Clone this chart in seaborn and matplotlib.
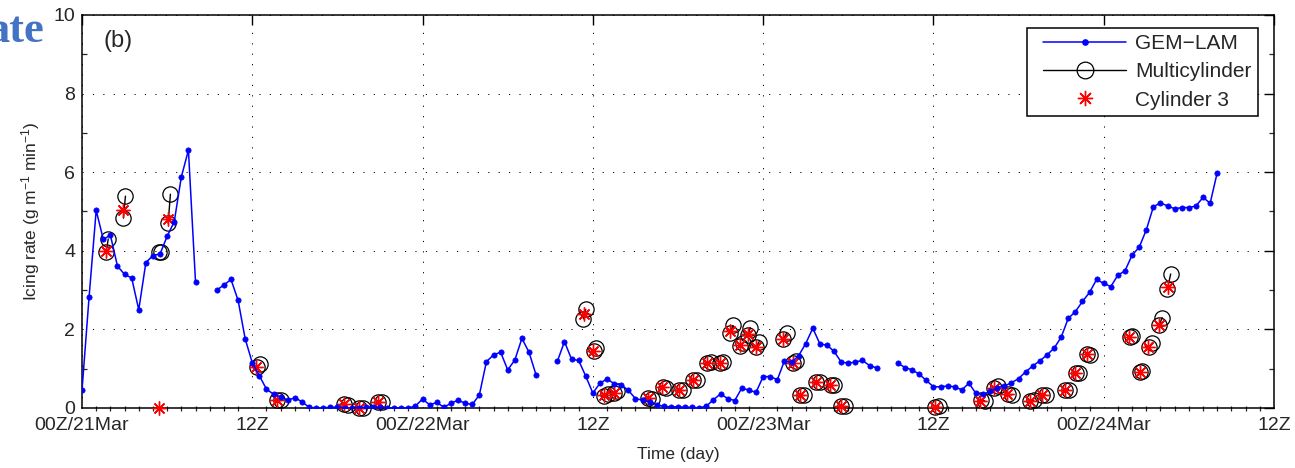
import numpy as np
import pandas as pd
import matplotlib
matplotlib.use("Agg")
import matplotlib.pyplot as plt
from matplotlib.lines import Line2D
from matplotlib.legend_handler import HandlerLine2D
from matplotlib.ticker import MultipleLocator
import seaborn as sns

# ---------------- data ----------------
# GEM-LAM model icing rate, every 30 min from 00Z/21Mar (hours since start)
gem_hours = np.arange(0, 80.5, 0.5)
gem_rate = [
    0.45, 2.83, 5.03, 4.29, 4.40, 3.61, 3.40, 3.31, 2.50, 3.70,
    3.88, 3.92, 4.37, 4.74, 5.88, 6.56, 3.20, np.nan, np.nan, 3.00,
    3.13, 3.27, 2.74, 1.76, 1.15, 0.82, 0.48, 0.35, 0.28, 0.20,
    0.26, 0.16, 0.02, 0.00, 0.00, 0.02, 0.02, 0.00, 0.00, 0.00,
    0.02, 0.03, 0.02, 0.00, 0.00, 0.00, 0.00, 0.05, 0.23, 0.08,
    0.14, 0.02, 0.12, 0.20, 0.12, 0.09, 0.33, 1.18, 1.35, 1.42,
    0.97, 1.22, 1.77, 1.42, 0.84, np.nan, np.nan, 1.19, 1.69, 1.24,
    1.21, 0.81, 0.38, 0.63, 0.74, 0.62, 0.59, 0.45, 0.24, 0.20,
    0.16, 0.08, 0.04, 0.03, 0.03, 0.02, 0.02, 0.00, 0.05, 0.21,
    0.36, 0.24, 0.19, 0.51, 0.45, 0.40, 0.80, 0.80, 0.72, 1.20,
    1.16, 1.33, 1.64, 2.03, 1.63, 1.60, 1.44, 1.17, 1.14, 1.17,
    1.21, 1.08, 1.02, np.nan, np.nan, 1.14, 1.03, 0.97, 0.86, 0.70,
    0.54, 0.54, 0.56, 0.54, 0.46, 0.63, 0.37, 0.35, 0.42, 0.52,
    0.56, 0.64, 0.75, 0.92, 1.07, 1.20, 1.35, 1.52, 1.80, 2.28,
    2.45, 2.71, 2.94, 3.27, 3.17, 3.09, 3.38, 3.49, 3.89, 4.09,
    4.53, 5.12, 5.22, 5.14, 5.07, 5.10, 5.10, 5.14, 5.36, 5.21,
    5.99,
]

# Cylinder 3 observations
cyl3_hours = [1.70, 2.92, 5.41, 6.07, 12.28, 13.74, 18.44, 19.50, 20.84,
              35.35, 36.04, 36.79, 37.50, 39.88, 40.90, 42.08, 43.05, 44.04,
              44.95, 45.65, 46.35, 46.90, 47.50, 49.40, 50.08, 50.60, 51.70,
              52.74, 53.50, 60.08, 63.30, 64.27, 65.20, 66.80, 67.65, 69.25,
              70.00, 70.80, 73.80, 74.55, 75.15, 75.90, 76.50]
cyl3_rate = [4.00, 5.03, 0.00, 4.80, 1.05, 0.20, 0.09, 0.01, 0.15,
             2.38, 1.45, 0.33, 0.39, 0.26, 0.53, 0.46, 0.71, 1.15,
             1.15, 1.97, 1.60, 1.88, 1.56, 1.75, 1.15, 0.33, 0.67,
             0.59, 0.05, 0.03, 0.19, 0.52, 0.36, 0.19, 0.32, 0.45,
             0.90, 1.37, 1.80, 0.92, 1.54, 2.11, 3.07]

# Multicylinder observations: two readings per event
multi_hours_a = [1.70, 2.92, 5.46, 6.07, 12.30, 13.76, 18.46, 19.52, 20.86,
                 35.33, 36.06, 36.81, 37.52, 39.90, 40.92, 42.10, 43.07, 44.06,
                 44.97, 45.67, 46.37, 46.92, 47.52, 49.42, 50.10, 50.62, 51.72,
                 52.76, 53.52, 60.10, 63.32, 64.29, 65.22, 66.82, 67.67, 69.27,
                 70.02, 70.82, 73.82, 74.57, 75.17, 75.92, 76.48]
multi_rate_a = [3.98, 4.83, 3.96, 4.70, 1.05, 0.21, 0.09, 0.01, 0.15,
                2.27, 1.45, 0.31, 0.39, 0.26, 0.53, 0.46, 0.71, 1.15,
                1.15, 1.92, 1.57, 1.85, 1.56, 1.75, 1.15, 0.33, 0.67,
                0.59, 0.05, 0.03, 0.20, 0.52, 0.36, 0.19, 0.32, 0.45,
                0.90, 1.37, 1.80, 0.92, 1.54, 2.11, 3.02]
multi_hours_b = [1.85, 3.06, 5.60, 6.23, 12.55, 14.05, 18.72, 19.80, 21.15,
                 35.50, 36.25, 37.05, 37.73, 40.17, 41.15, 42.38, 43.33, 44.30,
                 45.20, 45.88, 46.55, 47.10, 47.72, 49.65, 50.35, 50.90, 51.98,
                 53.02, 53.78, 60.38, 63.62, 64.58, 65.52, 67.08, 67.92, 69.52,
                 70.25, 71.03, 73.98, 74.72, 75.42, 76.12, 76.72]
multi_rate_b = [4.30, 5.39, 3.96, 5.44, 1.12, 0.21, 0.08, 0.01, 0.14,
                2.51, 1.52, 0.36, 0.42, 0.23, 0.52, 0.46, 0.72, 1.17,
                1.17, 2.10, 1.65, 2.04, 1.69, 1.90, 1.20, 0.33, 0.67,
                0.59, 0.05, 0.05, 0.18, 0.55, 0.33, 0.20, 0.33, 0.47,
                0.90, 1.35, 1.84, 0.94, 1.66, 2.30, 3.41]

xtick_pos = [0, 12, 24, 36, 48, 60, 72, 84]
xtick_labels = ["00Z/21Mar", "12Z", "00Z/22Mar", "12Z", "00Z/23Mar", "12Z",
                "00Z/24Mar", "12Z"]
series_labels = ["GEM\u2212LAM", "Multicylinder", "Cylinder 3"]

# ---------------- tables ----------------
gem = pd.DataFrame({"h": gem_hours, "v": gem_rate})
gem["seg"] = gem["v"].isna().cumsum()
gem = gem.dropna()

n_ev = len(multi_hours_a)
multi = pd.DataFrame({
    "h": list(multi_hours_a) + list(multi_hours_b),
    "v": list(multi_rate_a) + list(multi_rate_b),
    "pair": list(range(n_ev)) * 2,
})
cyl = pd.DataFrame({"h": cyl3_hours, "v": cyl3_rate})

# ---------------- style ----------------
sns.set_style("white")
plt.rcParams["font.family"] = ["Liberation Sans", "DejaVu Sans"]
plt.rcParams["mathtext.fontset"] = "custom"
plt.rcParams["mathtext.rm"] = "Liberation Sans"
plt.rcParams["mathtext.it"] = "Liberation Sans"

fig = plt.figure(figsize=(12.95, 4.68), dpi=100)
ax = fig.add_axes([82 / 1295, 1 - 408 / 468, (1274 - 82) / 1295, (408 - 15) / 468])

star = (8, 2, 0)

sns.lineplot(data=multi, x="h", y="v", units="pair", estimator=None, ax=ax,
             color="black", linewidth=1.0, marker="o", markersize=11,
             markerfacecolor="none", markeredgecolor="black",
             markeredgewidth=0.9, clip_on=False, zorder=3, legend=False)
sns.lineplot(data=cyl, x="h", y="v", estimator=None, ax=ax, color="red",
             linestyle="none", marker=star, markersize=10,
             markeredgecolor="red", markeredgewidth=1.0, clip_on=False,
             zorder=4, legend=False)
sns.lineplot(data=gem, x="h", y="v", units="seg", estimator=None, ax=ax,
             color="blue", linewidth=1.1, marker="o", markersize=3.8,
             markeredgecolor="blue", markeredgewidth=0.5, zorder=5,
             legend=False)

ax.set_xlim(0, 84)
ax.set_ylim(0, 10)
ax.set_xticks(xtick_pos)
ax.set_xticklabels(xtick_labels, fontsize=14)
ax.set_yticks([0, 2, 4, 6, 8, 10])
ax.set_yticklabels(["0", "2", "4", "6", "8", "10"], fontsize=14)
ax.xaxis.set_minor_locator(MultipleLocator(1))
ax.yaxis.set_minor_locator(MultipleLocator(1))
ax.tick_params(axis="both", which="major", direction="in", length=7,
               width=1.0, color="black", top=True, right=True, pad=5)
ax.tick_params(axis="x", which="major", pad=6.5)
ax.tick_params(axis="y", which="minor", direction="in", length=3.6,
               width=0.9, left=True, right=True)
ax.tick_params(axis="x", which="minor", direction="inout", length=3.6,
               width=0.9, bottom=True, top=False)
for sp in ax.spines.values():
    sp.set_visible(True)
    sp.set_color("black")
    sp.set_linewidth(1.1)

ax.grid(True, which="major", color="black", linestyle=(0, (1.2, 9.5)),
        linewidth=0.7)
ax.grid(False, which="minor")

ax.set_xlabel("Time (day)", fontsize=12.5, labelpad=9)
ax.set_ylabel("Icing rate (g m$^{\u22121}$ min$^{\u22121}$)", fontsize=12.5,
              labelpad=8)

ax.text(0.018, 0.934, "(b)", transform=ax.transAxes, fontsize=17,
        va="center", ha="left")

fig.text(44 / 1295, 1 - 42 / 468, "ate", ha="right", va="baseline",
         fontsize=32, fontweight="bold", family="Liberation Serif",
         color="#4472C4")

handles = [
    Line2D([], [], color="blue", lw=1.1, marker="o", markersize=3.8,
           markeredgecolor="blue"),
    Line2D([], [], color="black", lw=1.0, marker="o", markersize=12,
           markerfacecolor="none", markeredgecolor="black",
           markeredgewidth=0.9),
    Line2D([], [], color="red", linestyle="none", marker=star,
           markersize=11, markeredgecolor="red", markeredgewidth=1.0),
]
leg = ax.legend(handles, series_labels, loc="upper right",
                bbox_to_anchor=((1258 - 82) / 1192, 1 - (28 - 15) / 393),
                borderaxespad=0, fontsize=15, frameon=True, fancybox=False,
                edgecolor="black", framealpha=1, handlelength=4.45,
                handletextpad=0.43, labelspacing=0.44, borderpad=0.3,
                numpoints=1,
                handler_map={Line2D: HandlerLine2D(xpad=0.45)})
leg.get_frame().set_linewidth(1.1)

fig.savefig("out.png", dpi=100)
